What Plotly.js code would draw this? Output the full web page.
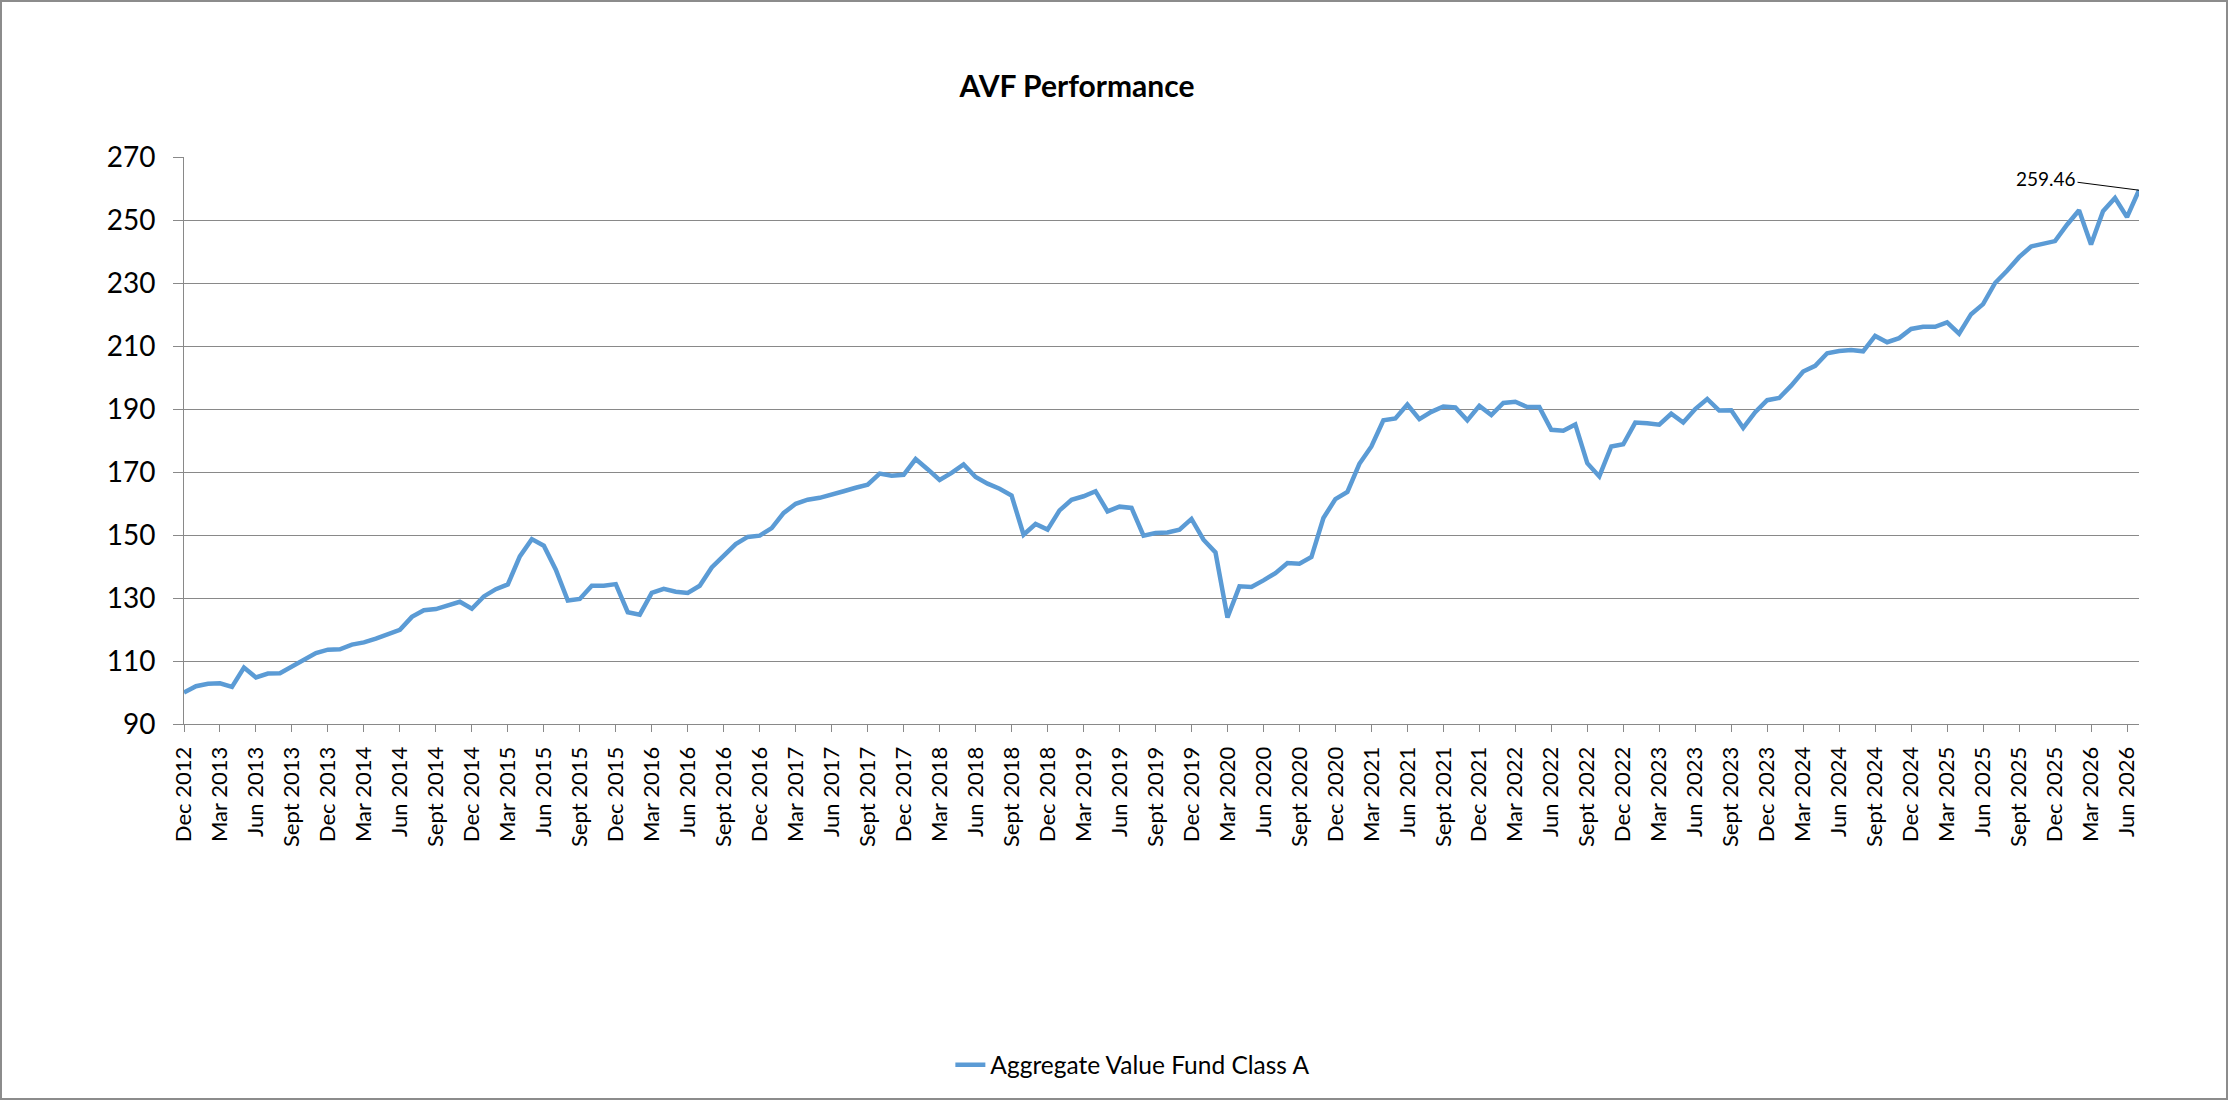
<!DOCTYPE html>
<html>
<head>
<meta charset="utf-8">
<script src="https://cdn.plot.ly/plotly-3.0.1.min.js"></script>
<style>
  html, body { margin: 0; padding: 0; background: #fff; }
  #wrap { position: relative; width: 2228px; height: 1100px; }
  #plot { position: absolute; left: 0; top: 0; width: 2228px; height: 1100px; }
  #frame {
    position: absolute; left: 0; top: 0; width: 2228px; height: 1100px;
    box-sizing: border-box; border: 2px solid #8c8c8c; pointer-events: none;
  }
</style>
</head>
<body>
<div id="wrap">
  <div id="plot"></div>
  <div id="frame"></div>
</div>
<script>
// first point is Dec 2012, one value per month through Jul 2026
const startYear = 2012;
const startMonth = 11; // 0-based, December
const monthNames = ['Jan', 'Feb', 'Mar', 'Apr', 'May', 'Jun', 'Jul', 'Aug', 'Sept', 'Oct', 'Nov', 'Dec'];

const seriesName = 'Aggregate Value Fund Class A';
const fundValues = [
    100, 102, 102.8, 102.9, 101.8, 107.9, 104.8, 106, 106.1, 108.3, 110.4, 112.5,
    113.6, 113.7, 115.2, 115.9, 117.1, 118.4, 119.9, 124, 126.1, 126.5, 127.6, 128.8,
    126.6, 130.5, 132.8, 134.3, 143.2, 148.7, 146.6, 139, 129.2, 129.7, 133.9, 133.9,
    134.4, 125.5, 124.7, 131.6, 132.9, 132, 131.6, 133.9, 139.7, 143.6, 147.1, 149.4,
    149.8, 152.2, 157, 159.9, 161.2, 161.8, 162.7, 163.9, 165, 166, 169.5, 168.8,
    169.1, 174.1, 170.9, 167.5, 169.7, 172.4, 168.4, 166.3, 164.7, 162.5, 150.1, 153.5,
    151.7, 157.8, 161.2, 162.3, 163.9, 157.5, 159, 158.6, 149.8, 150.6, 150.8, 151.7,
    155.1, 148.5, 144.5, 123.8, 133.7, 133.5, 135.6, 137.9, 141.1, 140.9, 143, 155.4,
    161.4, 163.7, 172.6, 178.1, 186.4, 187, 191.4, 186.8, 189.1, 190.8, 190.5, 186.4,
    191, 188.1, 191.9, 192.3, 190.6, 190.6, 183.4, 183.1, 185.1, 172.8, 168.6, 178.1,
    178.8, 185.7, 185.5, 185, 188.5, 185.7, 190, 193.2, 189.5, 189.6, 184, 189,
    192.8, 193.5, 197.4, 201.9, 203.7, 207.7, 208.4, 208.7, 208.3, 213.2, 211.2, 212.5,
    215.4, 216.1, 216.1, 217.5, 213.9, 220.1, 223.3, 230, 233.9, 238.2, 241.6, 242.3,
    243.3, 248.5, 253.1, 242.2, 252.8, 257, 250.9, 259.46
];

const yTicks = [90, 110, 130, 150, 170, 190, 210, 230, 250, 270];

// month labels for the category axis
const monthLabels = fundValues.map((_, i) => {
    const m = startMonth + i;
    return monthNames[m % 12] + ' ' + (startYear + Math.floor(m / 12));
});
// a label every third month
const tickLabels = monthLabels.filter((_, i) => i % 3 === 0);

const font = 'Lato, "Open Sans", sans-serif';
const gridGrey = '#898989';

const trace = {
    x: monthLabels,
    y: fundValues,
    type: 'scatter',
    mode: 'lines',
    name: seriesName,
    line: { color: '#5b9bd5', width: 4.5 }
};

const last = fundValues.length - 1;

const layout = {
    width: 2228,
    height: 1100,
    autosize: false,
    paper_bgcolor: '#ffffff',
    plot_bgcolor: '#ffffff',
    font: { family: font, color: '#000000' },
    margin: { l: 184, r: 89, t: 157, b: 376, pad: 0 },
    title: {
        text: '<b>AVF Performance</b>',
        font: { family: font, size: 30, color: '#000000' },
        xref: 'container', x: 0.4834, xanchor: 'center',
        yref: 'container', y: 0.921, yanchor: 'middle'
    },
    xaxis: {
        type: 'category',
        range: [0, last],
        tickmode: 'array',
        tickvals: tickLabels,
        ticktext: tickLabels,
        tickangle: -90,
        tickfont: { family: font, size: 22, color: '#000000' },
        ticks: 'outside',
        ticklen: 7,
        tickcolor: gridGrey,
        tickwidth: 1,
        ticklabelstandoff: 6,
        showline: true,
        linecolor: gridGrey,
        linewidth: 1,
        showgrid: false,
        zeroline: false,
        fixedrange: true
    },
    yaxis: {
        range: [90, 270],
        tickmode: 'array',
        tickvals: yTicks,
        tickfont: { family: font, size: 28, color: '#000000' },
        ticks: 'outside',
        ticklen: 10,
        tickcolor: gridGrey,
        tickwidth: 1,
        ticklabelstandoff: 12,
        showline: true,
        linecolor: gridGrey,
        linewidth: 1,
        showgrid: true,
        gridcolor: gridGrey,
        gridwidth: 1,
        zeroline: false,
        fixedrange: true
    },
    showlegend: true,
    legend: {
        orientation: 'h',
        x: 0.392, xanchor: 'left',
        y: -0.601, yanchor: 'middle',
        font: { family: font, size: 24.5, color: '#000000' },
        bgcolor: 'rgba(0,0,0,0)'
    },
    annotations: [{
        x: monthLabels[last],
        y: fundValues[last],
        xref: 'x', yref: 'y',
        text: fundValues[last].toFixed(2),
        font: { family: font, size: 19, color: '#000000' },
        showarrow: true,
        arrowhead: 0,
        arrowwidth: 1,
        arrowcolor: '#000000',
        ax: -93,
        ay: -12,
        standoff: 0
    }],
    hovermode: false
};

Plotly.newPlot('plot', [trace], layout, { displayModeBar: false, staticPlot: true });
</script>
</body>
</html>
